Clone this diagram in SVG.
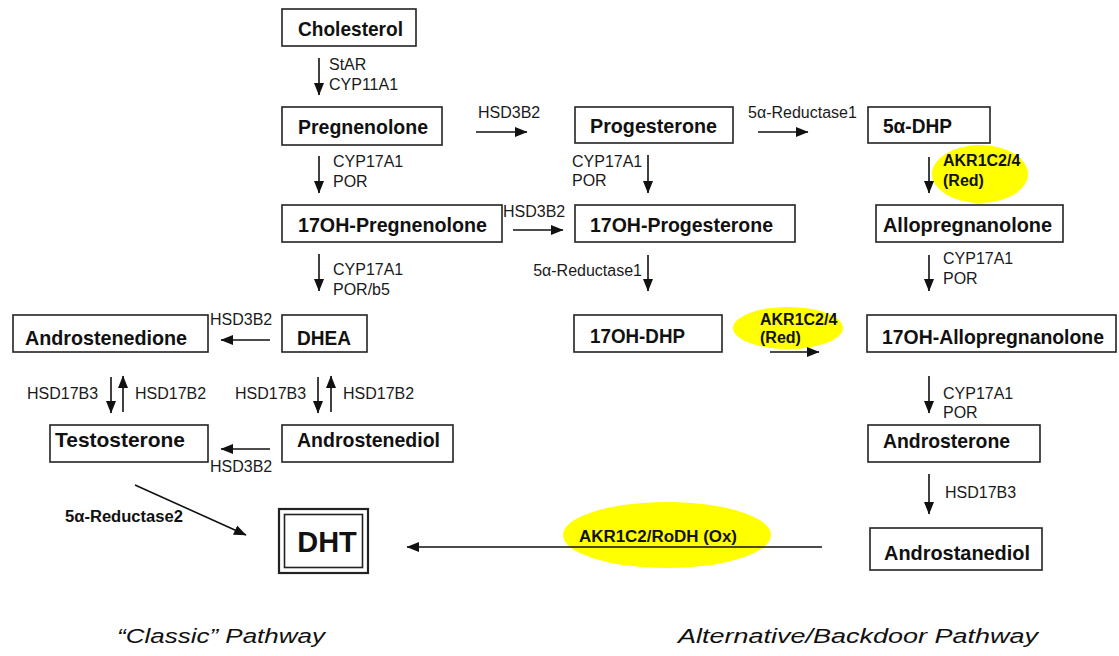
<svg xmlns="http://www.w3.org/2000/svg" width="1119" height="656" viewBox="0 0 1119 656">
<style>
.box{fill:#fff;stroke:#222;stroke-width:1.6}
.nt{font-family:"Liberation Sans",Arial,sans-serif;font-weight:bold;font-size:21px;fill:#111}
.lb{font-family:"Liberation Sans",Arial,sans-serif;font-size:16px;fill:#1a1a1a}
.bl{font-family:"Liberation Sans",Arial,sans-serif;font-weight:bold;font-size:16px;fill:#111}
.ti{font-family:"Liberation Sans",Arial,sans-serif;font-style:italic;font-size:20px;fill:#111}
.ar{stroke:#111;stroke-width:1.6;fill:none;marker-end:url(#ah)}
.yl{fill:#ffff00}
</style>
<defs>
<marker id="ah" markerUnits="userSpaceOnUse" markerWidth="13" markerHeight="13" viewBox="0 0 13 13" refX="12" refY="6.5" orient="auto">
<path d="M0,1.5 L12.5,6.5 L0,11.5 Z" fill="#111"/>
</marker>
</defs>
<rect width="1119" height="656" fill="#fff"/>

<g id="highlights">
<ellipse class="yl" cx="980" cy="174" rx="48" ry="29"/>
<ellipse class="yl" cx="788" cy="328" rx="55" ry="21"/>
<ellipse class="yl" cx="667" cy="535" rx="104" ry="33"/>
</g>

<g id="connectors">
<line class="ar" x1="319" y1="58" x2="319" y2="95"/>
<line class="ar" x1="319" y1="156" x2="319" y2="193"/>
<line class="ar" x1="319" y1="254" x2="319" y2="291"/>
<line class="ar" x1="476" y1="132" x2="527" y2="132"/>
<line class="ar" x1="513" y1="230" x2="563" y2="230"/>
<line class="ar" x1="648" y1="155" x2="648" y2="193"/>
<line class="ar" x1="648" y1="255" x2="648" y2="291"/>
<line class="ar" x1="758" y1="132" x2="808" y2="132"/>
<line class="ar" x1="929" y1="157" x2="929" y2="193"/>
<line class="ar" x1="929" y1="255" x2="929" y2="291"/>
<line class="ar" x1="770" y1="352" x2="819" y2="352"/>
<line class="ar" x1="929" y1="376" x2="929" y2="413"/>
<line class="ar" x1="929" y1="474" x2="929" y2="514"/>
<line class="ar" x1="822" y1="547" x2="407" y2="547"/>
<line class="ar" x1="270" y1="340" x2="221" y2="340"/>
<line class="ar" x1="270" y1="449" x2="221" y2="449"/>
<line class="ar" x1="111" y1="377" x2="111" y2="413"/>
<line class="ar" x1="123" y1="412" x2="123" y2="376"/>
<line class="ar" x1="318" y1="377" x2="318" y2="413"/>
<line class="ar" x1="331" y1="412" x2="331" y2="376"/>
<line class="ar" x1="135" y1="485" x2="246" y2="535"/>
</g>

<g id="connector-labels">
<text class="lb" x="329" y="70">StAR</text>
<text class="lb" x="329" y="90">CYP11A1</text>
<text class="lb" x="478" y="118">HSD3B2</text>
<text class="lb" x="333" y="167">CYP17A1</text>
<text class="lb" x="333" y="187">POR</text>
<text class="lb" x="333" y="275">CYP17A1</text>
<text class="lb" x="333" y="295">POR/b5</text>
<text class="lb" x="503" y="217">HSD3B2</text>
<text class="lb" x="748" y="118">5α-Reductase1</text>
<text class="lb" x="572" y="167">CYP17A1</text>
<text class="lb" x="572" y="186">POR</text>
<text class="lb" x="642" y="276" text-anchor="end">5α-Reductase1</text>
<text class="bl" x="943" y="166">AKR1C2/4</text>
<text class="bl" x="943" y="186">(Red)</text>
<text class="lb" x="943" y="264">CYP17A1</text>
<text class="lb" x="943" y="284">POR</text>
<text class="bl" x="760" y="325">AKR1C2/4</text>
<text class="bl" x="760" y="343">(Red)</text>
<text class="lb" x="943" y="399">CYP17A1</text>
<text class="lb" x="943" y="418">POR</text>
<text class="lb" x="945" y="498">HSD17B3</text>
<text class="bl" x="579" y="542" textLength="158" lengthAdjust="spacingAndGlyphs">AKR1C2/RoDH (Ox)</text>
<text class="lb" x="210" y="325">HSD3B2</text>
<text class="lb" x="210" y="472">HSD3B2</text>
<text class="lb" x="27" y="399">HSD17B3</text>
<text class="lb" x="135" y="399">HSD17B2</text>
<text class="lb" x="235" y="399">HSD17B3</text>
<text class="lb" x="343" y="399">HSD17B2</text>
<text class="bl" x="65" y="522" textLength="118" lengthAdjust="spacingAndGlyphs">5α-Reductase2</text>
</g>

<g id="cholesterol"><rect class="box" x="282" y="9" width="134" height="37"/><text class="nt" x="298" y="36" textLength="105" lengthAdjust="spacingAndGlyphs">Cholesterol</text></g>
<g id="pregnenolone"><rect class="box" x="282" y="107" width="160" height="38"/><text class="nt" x="298" y="134" textLength="130" lengthAdjust="spacingAndGlyphs">Pregnenolone</text></g>
<g id="oh-pregnenolone"><rect class="box" x="282" y="205" width="220" height="37"/><text class="nt" x="298" y="232" textLength="189" lengthAdjust="spacingAndGlyphs">17OH-Pregnenolone</text></g>
<g id="progesterone"><rect class="box" x="575" y="107" width="158" height="36"/><text class="nt" x="590" y="133" textLength="127" lengthAdjust="spacingAndGlyphs">Progesterone</text></g>
<g id="oh-progesterone"><rect class="box" x="575" y="205" width="220" height="37"/><text class="nt" x="590" y="232" textLength="183" lengthAdjust="spacingAndGlyphs">17OH-Progesterone</text></g>
<g id="dhp"><rect class="box" x="868" y="107" width="122" height="36"/><text class="nt" x="883" y="133" textLength="69" lengthAdjust="spacingAndGlyphs">5α-DHP</text></g>
<g id="allopregnanolone"><rect class="box" x="876" y="205" width="187" height="37"/><text class="nt" x="883" y="232" textLength="169" lengthAdjust="spacingAndGlyphs">Allopregnanolone</text></g>
<g id="oh-dhp"><rect class="box" x="574" y="315" width="148" height="37"/><text class="nt" x="590" y="343" textLength="95" lengthAdjust="spacingAndGlyphs">17OH-DHP</text></g>
<g id="oh-allopregnanolone"><rect class="box" x="867" y="315" width="249" height="37"/><text class="nt" x="882" y="344" textLength="222" lengthAdjust="spacingAndGlyphs" style="font-size:19.5px">17OH-Allopregnanolone</text></g>
<g id="androsterone"><rect class="box" x="868" y="425" width="172" height="37"/><text class="nt" x="883" y="448" textLength="127" lengthAdjust="spacingAndGlyphs">Androsterone</text></g>
<g id="androstanediol"><rect class="box" x="870" y="528" width="172" height="42"/><text class="nt" x="884" y="560" textLength="146" lengthAdjust="spacingAndGlyphs">Androstanediol</text></g>
<g id="androstenedione"><rect class="box" x="13" y="315" width="195" height="37"/><text class="nt" x="25" y="345" textLength="162" lengthAdjust="spacingAndGlyphs">Androstenedione</text></g>
<g id="dhea"><rect class="box" x="282" y="315" width="85" height="37"/><text class="nt" x="297" y="345" textLength="54" lengthAdjust="spacingAndGlyphs">DHEA</text></g>
<g id="testosterone"><rect class="box" x="50" y="425" width="158" height="37"/><text class="nt" x="55" y="447" textLength="130" lengthAdjust="spacingAndGlyphs">Testosterone</text></g>
<g id="androstenediol"><rect class="box" x="282" y="425" width="171" height="37"/><text class="nt" x="297" y="447" textLength="143" lengthAdjust="spacingAndGlyphs">Androstenediol</text></g>
<g id="dht"><rect x="279" y="509" width="89" height="64" fill="#fff" stroke="#222" stroke-width="2.2"/><rect x="284.5" y="514.5" width="78" height="53" fill="none" stroke="#222" stroke-width="1.6"/><text class="nt" x="327" y="552" text-anchor="middle" style="font-size:29px">DHT</text></g>

<g id="titles">
<text class="ti" x="117" y="643" textLength="208" lengthAdjust="spacingAndGlyphs">“Classic” Pathway</text>
<text class="ti" x="678" y="643" textLength="360" lengthAdjust="spacingAndGlyphs">Alternative/Backdoor Pathway</text>
</g>
</svg>
